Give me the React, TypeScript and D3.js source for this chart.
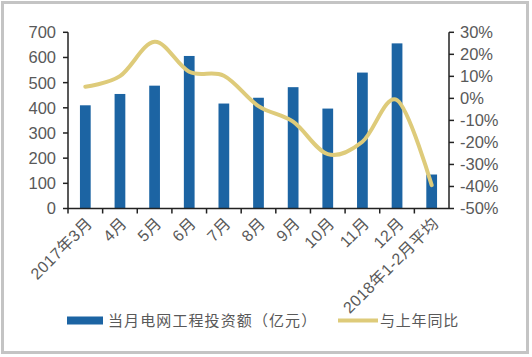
import React from "react";
import * as d3 from "d3";

const categories = ["2017年3月", "4月", "5月", "6月", "7月", "8月", "9月", "10月", "11月", "12月", "2018年1-2月平均"];
const investment = [410, 455, 488, 606, 417, 440, 482, 397, 540, 656, 135];
const yoy = [5.3, 10.1, 25.7, 12.1, 10.3, -3.5, -10.6, -25.3, -19.7, -0.8, -39.4];
const leftTicks = [0, 100, 200, 300, 400, 500, 600, 700];
const rightTicks = [30, 20, 10, 0, -10, -20, -30, -40, -50];
const seriesNames = ["当月电网工程投资额（亿元）", "与上年同比"];

const W = 532, H = 357;
const X0 = 68, X1 = 449, Y0 = 32.3, Y1 = 208.5;
const BAR = "#1C64A3";
const LINE = "#DECB7A";
const TEXT = "#595959";
const FONT = "'Liberation Sans', Arial, 'Noto Sans CJK SC', sans-serif";

export default function App() {
  const x = d3.scaleBand<string>().domain(categories).range([X0, X1]).paddingInner(0).paddingOuter(0);
  const yL = d3.scaleLinear().domain([0, 700]).range([Y1, Y0]);
  const yR = d3.scaleLinear().domain([-50, 30]).range([Y1, Y0]);
  const bw = x.bandwidth() * 0.31;
  const line = d3
    .line<number>()
    .x((_, i) => (x(categories[i]) as number) + x.bandwidth() / 2)
    .y((d) => yR(d))
    .curve(d3.curveCatmullRom.alpha(0));

  return (
    <svg width={W} height={H} style={{ position: "absolute", left: 0, top: 0, background: "#fff" }} fontFamily={FONT}>
      <rect x={2.5} y={2.5} width={525} height={350} fill="#fff" stroke="#c4c4c4" strokeWidth={3} />
      {investment.map((v, i) => (
        <rect
          key={i}
          x={(x(categories[i]) as number) + x.bandwidth() / 2 - bw / 2}
          y={yL(v)}
          width={bw}
          height={Y1 - yL(v)}
          fill={BAR}
        />
      ))}
      <path d={line(yoy) || ""} fill="none" stroke={LINE} strokeWidth={4} strokeLinecap="round" strokeLinejoin="round" />
      {/* left axis */}
      <line x1={X0} x2={X0} y1={Y0} y2={Y1} stroke="#222" strokeWidth={1.5} />
      {leftTicks.map((t) => (
        <g key={t}>
          <line x1={X0 - 5} x2={X0} y1={yL(t)} y2={yL(t)} stroke="#222" strokeWidth={1.5} />
          <text x={X0 - 12} y={yL(t)} dy="0.36em" textAnchor="end" fontSize={16.5} fill={TEXT}>
            {t}
          </text>
        </g>
      ))}
      {/* right axis */}
      <line x1={X1} x2={X1} y1={Y0} y2={Y1} stroke="#222" strokeWidth={1.5} />
      {rightTicks.map((t) => (
        <g key={t}>
          <line x1={X1} x2={X1 + 5} y1={yR(t)} y2={yR(t)} stroke="#222" strokeWidth={1.5} />
          <text x={X1 + 11} y={yR(t)} dy="0.36em" textAnchor="start" fontSize={16.5} fill={TEXT}>
            {t + "%"}
          </text>
        </g>
      ))}
      {/* bottom axis */}
      <line x1={X0} x2={X1} y1={Y1} y2={Y1} stroke="#222" strokeWidth={1.5} />
      {categories.map((c, i) => (
        <line key={"t" + i} x1={x(c) as number} x2={x(c) as number} y1={Y1} y2={Y1 + 5} stroke="#222" strokeWidth={1.5} />
      ))}
      {categories.map((c) => {
        const cx = (x(c) as number) + x.bandwidth() / 2 + 4;
        const cy = Y1 + 12;
        return (
          <text key={c} x={cx} y={cy} transform={`rotate(-45 ${cx} ${cy})`} textAnchor="end" dy="0.35em" fontSize={16} letterSpacing={0.4} fill={TEXT}>
            {c}
          </text>
        );
      })}
      {/* legend */}
      <rect x={67} y={316.5} width={36} height={8} fill={BAR} />
      <text x={108} y={321} dy="0.36em" fontSize={15} fill={TEXT} letterSpacing={1.1}>
        {seriesNames[0]}
      </text>
      <line x1={338} x2={378} y1={320.5} y2={320.5} stroke={LINE} strokeWidth={4} />
      <text x={380} y={321} dy="0.36em" fontSize={15} fill={TEXT} letterSpacing={0.8}>
        {seriesNames[1]}
      </text>
    </svg>
  );
}
